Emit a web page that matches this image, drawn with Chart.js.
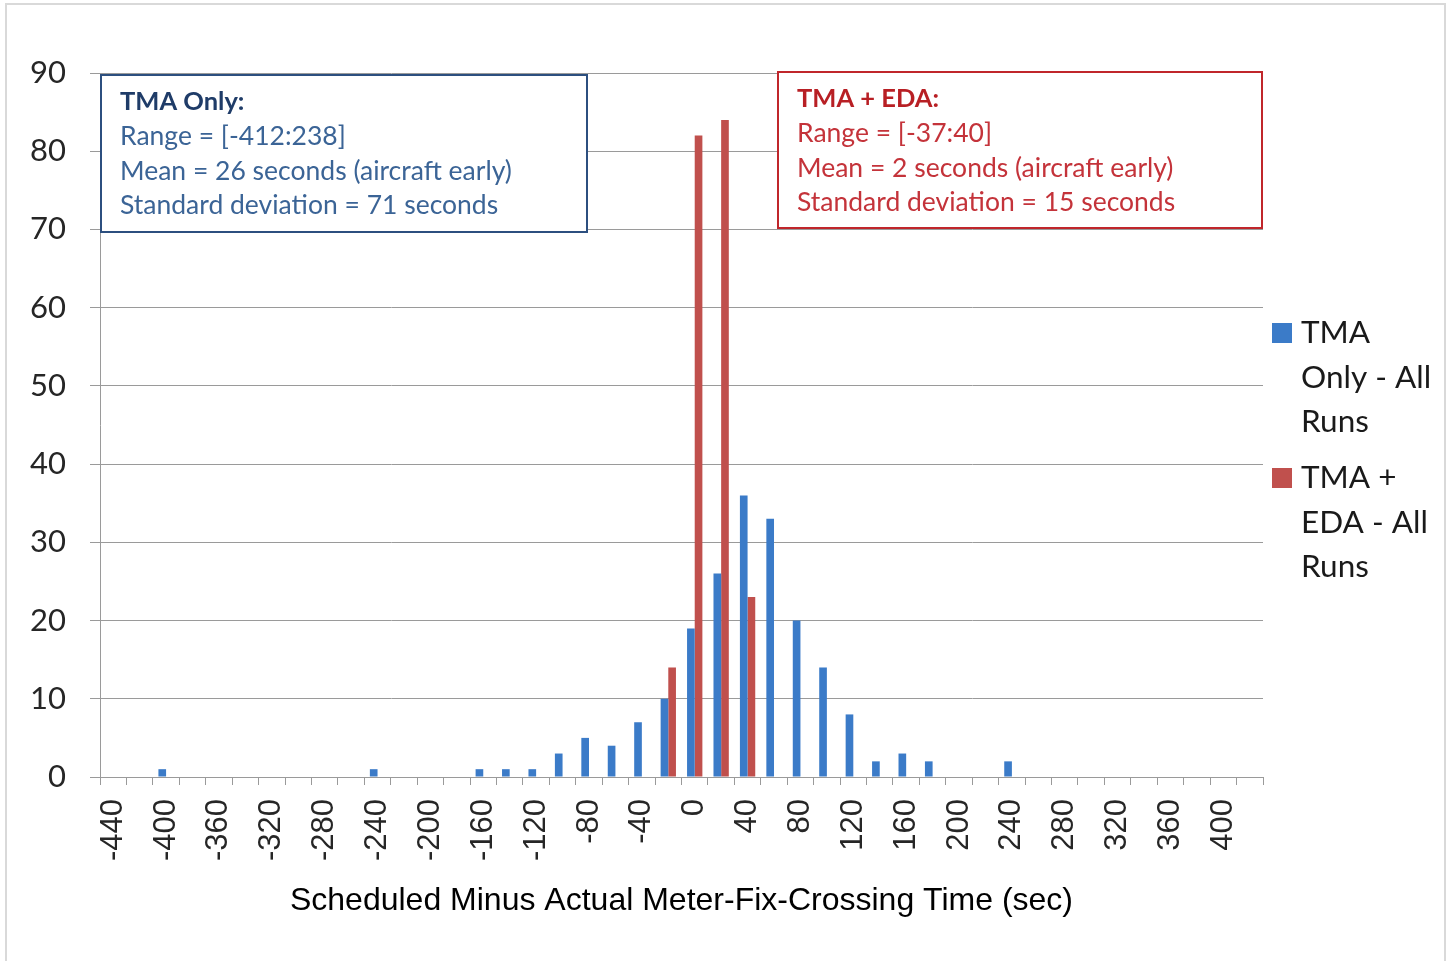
<!DOCTYPE html>
<html>
<head>
<meta charset="utf-8">
<script src="https://cdn.jsdelivr.net/npm/chart.js@4.4.1/dist/chart.umd.min.js"></script>
<style>
  html, body { margin: 0; padding: 0; background: #fff; }
  .chart-wrap { position: relative; width: 1452px; height: 961px; }
</style>
</head>
<body>
<div class="chart-wrap"><canvas id="histChart"></canvas></div>
<script>
// bins (sec)
const categories = [
  -440, -420, -400, -380, -360, -340, -320, -300, -280, -260, -240,
  -220, -200, -180, -160, -140, -120, -100, -80, -60, -40, -20,
  0, 20, 40, 60, 80, 100, 120, 140, 160, 180, 200,
  220, 240, 260, 280, 300, 320, 340, 360, 380, 400, 420,
];

const tmaOnly = [
  0, 0, 1, 0, 0, 0, 0, 0, 0, 0, 1,
  0, 0, 0, 1, 1, 1, 3, 5, 4, 7, 10,
  19, 26, 36, 33, 20, 14, 8, 2, 3, 2, 0,
  0, 2, 0, 0, 0, 0, 0, 0, 0, 0, 0,
];

const tmaEda = [
  0, 0, 0, 0, 0, 0, 0, 0, 0, 0, 0,
  0, 0, 0, 0, 0, 0, 0, 0, 0, 0, 14,
  82, 84, 23, 0, 0, 0, 0, 0, 0, 0, 0,
  0, 0, 0, 0, 0, 0, 0, 0, 0, 0, 0,
];

const seriesNames = ["TMA Only - All Runs", "TMA + EDA - All Runs"];
const legendLines = [["TMA", "Only - All", "Runs"], ["TMA +", "EDA - All", "Runs"]];
const seriesColors = ["#3b7bc8", "#c0504d"];

const tmaOnlyNote = [
  "TMA Only:",
  "Range = [-412:238]",
  "Mean = 26 seconds (aircraft early)",
  "Standard deviation = 71 seconds",
];
const tmaEdaNote = [
  "TMA + EDA:",
  "Range = [-37:40]",
  "Mean = 2 seconds (aircraft early)",
  "Standard deviation = 15 seconds",
];

const labelFont = "Lato";
const gridColor = "#9a9a9a";

// draws one stats box
function drawNote(ctx, x, y, w, h, lines, border, titleColor, textColor) {
  ctx.fillStyle = "#fff";
  ctx.fillRect(x, y, w, h);
  ctx.strokeStyle = border;
  ctx.lineWidth = 2;
  ctx.strokeRect(x, y, w, h);
  ctx.textBaseline = "middle";
  ctx.textAlign = "left";
  lines.forEach((line, i) => {
    ctx.font = i === 0 ? `bold 25.5px ${labelFont}` : `26.5px ${labelFont}`;
    ctx.fillStyle = i === 0 ? titleColor : textColor;
    ctx.fillText(line, x + 19, y + 27 + i * 34.6);
  });
}

const extrasPlugin = {
  id: "extras",
  beforeDraw(chart) {
    const ctx = chart.ctx;
    ctx.save();
    ctx.fillStyle = "#fff";
    ctx.fillRect(0, 0, chart.width, chart.height);
    ctx.strokeStyle = "#d9d9d9";
    ctx.lineWidth = 2;
    ctx.strokeRect(6, 4, 1439, 1000);
    ctx.restore();
  },
  afterDraw(chart) {
    const ctx = chart.ctx;
    const area = chart.chartArea;
    ctx.save();

    drawNote(ctx, area.left + 1, area.top + 2, 486, 157, tmaOnlyNote,
      "#2c4f7f", "#1f3c68", "#3b6496");
    drawNote(ctx, area.left + 678, area.top - 1, 484, 156, tmaEdaNote,
      "#c0262b", "#b81f24", "#c4333a");

    // legend on the right, wrapped like the original
    ctx.textBaseline = "middle";
    ctx.textAlign = "left";
    ctx.font = `31.5px ${labelFont}`;
    chart.data.datasets.forEach((ds, i) => {
      const y0 = 333 + i * 145;
      ctx.fillStyle = ds.backgroundColor;
      ctx.fillRect(area.right + 9, y0 - 10, 20, 20);
      ctx.fillStyle = "#1a1a1a";
      legendLines[i].forEach((line, j) => {
        ctx.fillText(line, area.right + 38, y0 + j * 44.5);
      });
    });
    ctx.restore();
  },
};

new Chart(document.getElementById("histChart"), {
  type: "bar",
  data: {
    labels: categories,
    datasets: [
      {
        label: seriesNames[0],
        data: tmaOnly,
        backgroundColor: seriesColors[0],
        categoryPercentage: 0.58,
        barPercentage: 1,
      },
      {
        label: seriesNames[1],
        data: tmaEda,
        backgroundColor: seriesColors[1],
        categoryPercentage: 0.58,
        barPercentage: 1,
      },
    ],
  },
  options: {
    responsive: true,
    maintainAspectRatio: false,
    animation: false,
    layout: {
      padding: { top: 73, right: 189, left: 0, bottom: 0 },
    },
    plugins: {
      legend: { display: false },
      tooltip: { enabled: false },
    },
    scales: {
      x: {
        offset: true,
        grid: {
          offset: true,
          drawOnChartArea: false,
          drawTicks: true,
          tickLength: 8,
          color: gridColor,
        },
        border: { display: true, color: gridColor },
        ticks: {
          autoSkip: false,
          maxRotation: 90,
          minRotation: 90,
          padding: 14,
          color: "#262626",
          font: { family: "Liberation Sans", size: 31 },
          callback: (value, index) => (index % 2 === 0 ? categories[index] : ""),
        },
        title: {
          display: true,
          text: "Scheduled Minus Actual Meter-Fix-Crossing Time (sec)",
          color: "#000",
          font: { family: "Liberation Sans", size: 32 },
          padding: { top: 0, bottom: 41 },
        },
        afterFit: (scale) => {
          scale.height = 184;
        },
      },
      y: {
        min: 0,
        max: 90,
        ticks: {
          stepSize: 10,
          padding: 24,
          color: "#262626",
          font: { family: labelFont, size: 31 },
        },
        grid: { color: gridColor, tickLength: 10 },
        border: { display: true, color: gridColor },
        afterFit: (scale) => {
          scale.width = 100;
        },
      },
    },
  },
  plugins: [extrasPlugin],
});
</script>
</body>
</html>
